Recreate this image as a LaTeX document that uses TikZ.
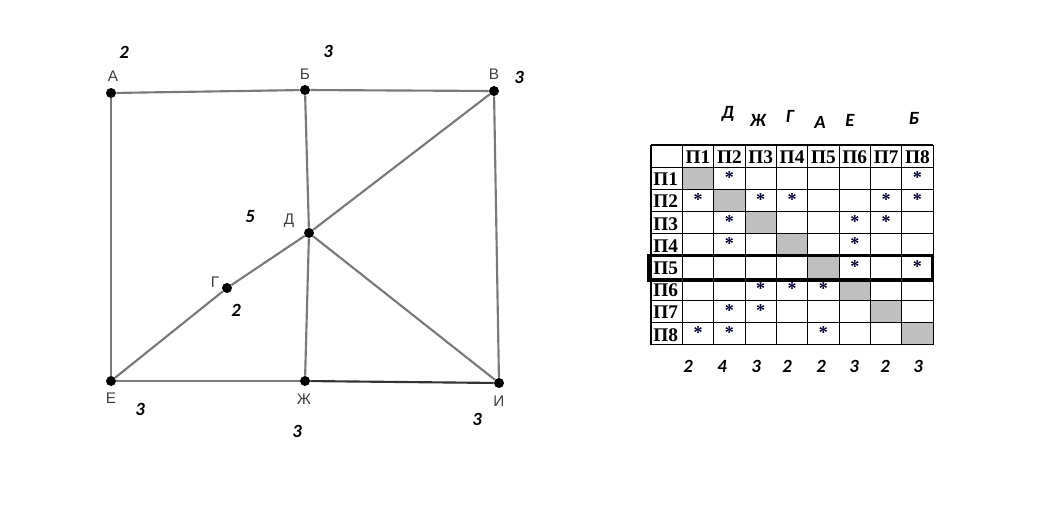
\documentclass[tikz,border=0pt]{standalone}
\usepackage{fontspec}
\setmainfont{Liberation Serif}
\newfontfamily\lblfont{Liberation Sans}
\newfontfamily\numfont{Carlito}
\begin{document}
\begin{tikzpicture}[x=0.75pt,y=-0.75pt,
  edge/.style={draw=gray!95!black,line width=1.6pt},
  dot/.style={circle,fill=black,inner sep=0pt,minimum size=7.5pt},
  vlbl/.style={font=\lblfont\fontsize{11.5}{13}\selectfont,text=black!75},
  wnum/.style={font=\numfont\bfseries\itshape\fontsize{14}{16}\selectfont},
  hdr/.style={font=\bfseries\fontsize{14.5}{16}\selectfont},
  ast/.style={font=\bfseries\fontsize{13.5}{14}\selectfont,text=black!80!blue},
  grey/.style={fill=black!25}]
\useasboundingbox (0,0) rectangle (1048,511);
% vertices
\node[dot] (A) at (111,93) {};
\node[dot] (B) at (305,90) {};
\node[dot] (V) at (494,91) {};
\node[dot] (D) at (309,233) {};
\node[dot] (G) at (227,288) {};
\node[dot] (E) at (111,381) {};
\node[dot] (Zh) at (305,381) {};
\node[dot] (I) at (499,383) {};
% edges
\draw[edge] (A) -- (B);
\draw[edge] (B) -- (V);
\draw[edge] (A) -- (E);
\draw[edge] (B) -- (D);
\draw[edge] (V) -- (D);
\draw[edge] (V) -- (I);
\draw[edge] (D) -- (G);
\draw[edge] (G) -- (E);
\draw[edge] (D) -- (Zh);
\draw[edge] (D) -- (I);
\draw[edge] (E) -- (Zh);
\draw[edge,draw=black!80] (Zh) -- (I);
% vertex labels
\node[vlbl] (lA) at (113,76) {А};
\node[vlbl] (lB) at (305,74) {Б};
\node[vlbl] (lV) at (494,74) {В};
\node[vlbl] (lD) at (289,221) {Д};
\node[vlbl] (lG) at (215,282) {Г};
\node[vlbl] (lE) at (111,398) {Е};
\node[vlbl] (lZh) at (304,399) {Ж};
\node[vlbl] (lI) at (499,401) {И};
% weights
\node[wnum] (wA) at (124,52) {2};
\node[wnum] (wB) at (328,51) {3};
\node[wnum] (wV) at (519,77) {3};
\node[wnum] (wD) at (250,217) {5};
\node[wnum] (wG) at (236,310) {2};
\node[wnum] (wE) at (140,409) {3};
\node[wnum] (wZh) at (297,431) {3};
\node[wnum] (wI) at (477,419) {3};
% table
\def\cx{651}\def\cw{31.35}\def\ry{145}\def\rh{22.2}
\foreach \i in {1,...,8}{
  \fill[grey] ({\cx+\i*\cw},{\ry+\i*\rh}) rectangle ({\cx+(\i+1)*\cw},{\ry+(\i+1)*\rh});
}
\foreach \i in {0,...,9}{
  \draw[line width=0.8pt] ({\cx+\i*\cw},\ry) -- ({\cx+\i*\cw},{\ry+9*\rh});
  \draw[line width=0.8pt] (\cx,{\ry+\i*\rh}) -- ({\cx+9*\cw},{\ry+\i*\rh});
}
\foreach \i in {1,...,8}{
  \node[hdr] (h\i) at ({\cx+(\i+0.5)*\cw},{\ry+0.5*\rh+1}) {П\i};
  \node[hdr,anchor=west,inner sep=0pt] (r\i) at ({\cx+2},{\ry+(\i+0.5)*\rh+1}) {П\i};
}
\foreach \r/\c in {1/2,1/8,2/1,2/3,2/4,2/7,2/8,3/2,3/6,3/7,4/2,4/6,5/6,5/8,6/3,6/4,6/5,7/2,7/3,8/1,8/2,8/5}{
  \node[ast] (a\r\c) at ({\cx+(\c+0.5)*\cw},{\ry+(\r+0.5)*\rh-1}) {*};
}
\draw[line width=2.4pt] (649,255.5) rectangle (932.5,280);
% top letters
\node[wnum] (tD) at (728,114) {Д};
\node[wnum] (tZh) at (758,120) {Ж};
\node[wnum] (tG) at (790,116) {Г};
\node[wnum] (tA) at (820,122) {А};
\node[wnum] (tE) at (850,120) {Е};
\node[wnum] (tB) at (914,118) {Б};
% bottom numbers
\node[wnum] (b1) at (688,366) {2};
\node[wnum] (b2) at (722,366) {4};
\node[wnum] (b3) at (756,366) {3};
\node[wnum] (b4) at (787,366) {2};
\node[wnum] (b5) at (821,366) {2};
\node[wnum] (b6) at (854,366) {3};
\node[wnum] (b7) at (885,366) {2};
\node[wnum] (b8) at (918,366) {3};
\end{tikzpicture}
\end{document}
